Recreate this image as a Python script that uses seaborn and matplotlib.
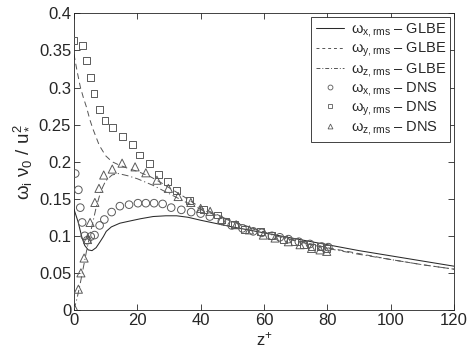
"""
Vorticity rms profiles: GLBE vs DNS
"""

import matplotlib
matplotlib.use("Agg")
import matplotlib.pyplot as plt
from matplotlib.lines import Line2D
import seaborn as sns

# GLBE curves
z_x_glbe = [0, 1.3, 2.5, 3.4, 4.5, 5.7, 7, 8.1, 9.3, 10.2, 11.8, 14.5, 17.7, 21, 25, 29, 32.4, 36, 40,
            50, 60, 70, 80, 90, 100, 110, 120]
w_x_glbe = [0.136, 0.119, 0.098, 0.087, 0.081, 0.080, 0.084, 0.091, 0.099, 0.106, 0.112, 0.117, 0.120,
            0.123, 0.126, 0.127, 0.127, 0.125, 0.121, 0.112, 0.104, 0.096, 0.088, 0.080, 0.073, 0.066, 0.059]

z_y_glbe = [0, 1, 2, 3, 4, 5, 6, 8, 10, 12, 14, 17, 20, 24, 27, 30, 35, 40,
            50, 60, 70, 80, 90, 100, 110, 120]
w_y_glbe = [0.345, 0.322, 0.301, 0.286, 0.273, 0.257, 0.244, 0.222, 0.208, 0.200, 0.196, 0.191, 0.187,
            0.180, 0.173, 0.165, 0.152, 0.138, 0.120, 0.105, 0.094, 0.084, 0.076, 0.068, 0.061, 0.055]

z_z_glbe = [0, 1, 2, 3, 4, 5, 6, 7, 8, 9, 10, 12, 14, 17, 20, 25, 30, 35, 40,
            50, 60, 70, 80, 90, 100, 110, 120]
w_z_glbe = [0.0, 0.016, 0.036, 0.058, 0.080, 0.100, 0.119, 0.138, 0.153, 0.165, 0.174, 0.182, 0.184,
            0.181, 0.177, 0.168, 0.157, 0.146, 0.136, 0.119, 0.104, 0.093, 0.083, 0.075, 0.068, 0.061, 0.055]

# DNS points
z_x_dns = [0.4, 1.4, 2.0, 2.6, 3.4, 4.2, 5.3, 6.5, 8.1, 9.6, 11.9, 14.5, 17.4, 20.2, 22.7, 25.3, 28.0,
           30.7, 33.9, 37.0, 40.0, 42.9, 46.7, 49.8, 53.2, 56.6, 59.3, 62.5, 65.0, 67.7, 71.0, 74.5,
           78.2, 80.3]
w_x_dns = [0.184, 0.162, 0.138, 0.118, 0.100, 0.094, 0.099, 0.101, 0.114, 0.122, 0.132, 0.140, 0.142,
           0.144, 0.144, 0.144, 0.143, 0.138, 0.135, 0.132, 0.130, 0.126, 0.120, 0.114, 0.110, 0.106,
           0.104, 0.100, 0.098, 0.0955, 0.092, 0.089, 0.0856, 0.0847]

z_y_dns = [0.0, 2.7, 4.0, 5.3, 6.3, 8.0, 9.8, 12.2, 15.4, 18.5, 20.8, 23.8, 26.6, 29.6, 32.4, 36.4,
           40.8, 45.3, 48.0, 50.8, 53.8, 59.0, 62.4, 66.1, 69.6, 72.4, 75.0, 77.7, 79.8]
w_y_dns = [0.364, 0.357, 0.336, 0.314, 0.292, 0.270, 0.256, 0.246, 0.234, 0.223, 0.209, 0.197, 0.183,
           0.173, 0.161, 0.148, 0.136, 0.128, 0.119, 0.115, 0.109, 0.106, 0.100, 0.0955, 0.092, 0.088,
           0.085, 0.0856, 0.083]

z_z_dns = [0.4, 1.4, 2.2, 3.2, 4.3, 5.1, 6.6, 7.9, 9.4, 12.1, 15.2, 19.3, 22.7, 26.2, 29.8, 32.9, 36.9,
           40.0, 43.0, 46.6, 51.2, 55.4, 59.8, 63.5, 67.7, 71.4, 75.0, 77.7, 79.8]
w_z_dns = [0.0, 0.028, 0.050, 0.070, 0.095, 0.118, 0.145, 0.164, 0.182, 0.190, 0.198, 0.193, 0.185,
           0.175, 0.164, 0.153, 0.145, 0.137, 0.133, 0.122, 0.115, 0.108, 0.101, 0.097, 0.092, 0.088,
           0.083, 0.081, 0.079]

sns.set_style("ticks")
plt.rcParams.update({
    "font.family": ["Liberation Sans", "DejaVu Sans"],
    "mathtext.fontset": "custom",
    "mathtext.rm": "Liberation Sans",
    "mathtext.it": "Liberation Sans",
    "mathtext.bf": "Liberation Sans:bold",
    "xtick.direction": "in",
    "ytick.direction": "in",
    "xtick.top": True,
    "ytick.right": True,
})

SOLID_C = "#2a2a2a"
DASH_C = "#555555"
MARK_C = "#5a5a5a"
DASHED = (0, (6, 4))
DASHDOT = (0, (7, 3, 1.2, 3))

fig = plt.figure(figsize=(4.71, 3.53), dpi=100)
ax = fig.add_axes([0.157, 0.122, 0.807, 0.840])

sns.lineplot(x=z_x_glbe, y=w_x_glbe, ax=ax, color=SOLID_C, lw=0.75, linestyle="-", sort=False)
sns.lineplot(x=z_y_glbe, y=w_y_glbe, ax=ax, color=DASH_C, lw=0.7, linestyle=DASHED, sort=False)
sns.lineplot(x=z_z_glbe, y=w_z_glbe, ax=ax, color=DASH_C, lw=0.7, linestyle=DASHDOT, sort=False)

for zs, ws, mk, sz in [(z_x_dns, w_x_dns, "o", 30), (z_y_dns, w_y_dns, "s", 24), (z_z_dns, w_z_dns, "^", 34)]:
    sns.scatterplot(x=zs, y=ws, ax=ax, marker=mk, s=sz, facecolor="none", edgecolor=MARK_C,
                    linewidth=0.7, zorder=3)

ax.set_xlim(0, 120)
ax.set_ylim(0, 0.4)
ax.set_xticks([0, 20, 40, 60, 80, 100, 120])
ax.set_yticks([0, 0.05, 0.1, 0.15, 0.2, 0.25, 0.3, 0.35, 0.4])
ax.set_yticklabels(["0", "0.05", "0.1", "0.15", "0.2", "0.25", "0.3", "0.35", "0.4"])
ax.tick_params(labelsize=12, length=4, width=0.6, pad=2)
for sp in ax.spines.values():
    sp.set_linewidth(0.6)
    sp.set_color("#222222")

ax.set_xlabel(r"z$^{+}$", fontsize=12, labelpad=2)
ax.set_ylabel(r"$\omega_{\rm i}\ \nu_0\ /\ u_*^2$", fontsize=13.5, labelpad=4)

handles = [
    Line2D([], [], color=SOLID_C, lw=0.75, linestyle="-"),
    Line2D([], [], color=DASH_C, lw=0.7, linestyle=(0, (3, 3))),
    Line2D([], [], color=DASH_C, lw=0.7, linestyle=(0, (4, 2, 1, 2))),
    Line2D([], [], color=MARK_C, lw=0, marker="o", markersize=3.5, mfc="none", mew=0.6),
    Line2D([], [], color=MARK_C, lw=0, marker="s", markersize=3, mfc="none", mew=0.6),
    Line2D([], [], color=MARK_C, lw=0, marker="^", markersize=3.5, mfc="none", mew=0.6),
]
labels = [
    r"$\omega_{\rm x,rms}$ – GLBE",
    r"$\omega_{\rm y,rms}$ – GLBE",
    r"$\omega_{\rm z,rms}$ – GLBE",
    r"$\omega_{\rm x,rms}$ – DNS",
    r"$\omega_{\rm y,rms}$ – DNS",
    r"$\omega_{\rm z,rms}$ – DNS",
]
leg = ax.legend(handles, labels, loc="upper right", fontsize=10.5, frameon=True, fancybox=False,
                edgecolor="#222222", framealpha=1, handlelength=1.9, labelspacing=0.1,
                borderpad=0.3, handletextpad=0.5, borderaxespad=0.25)
leg.get_frame().set_linewidth(0.6)

fig.savefig("out.png", dpi=100)
